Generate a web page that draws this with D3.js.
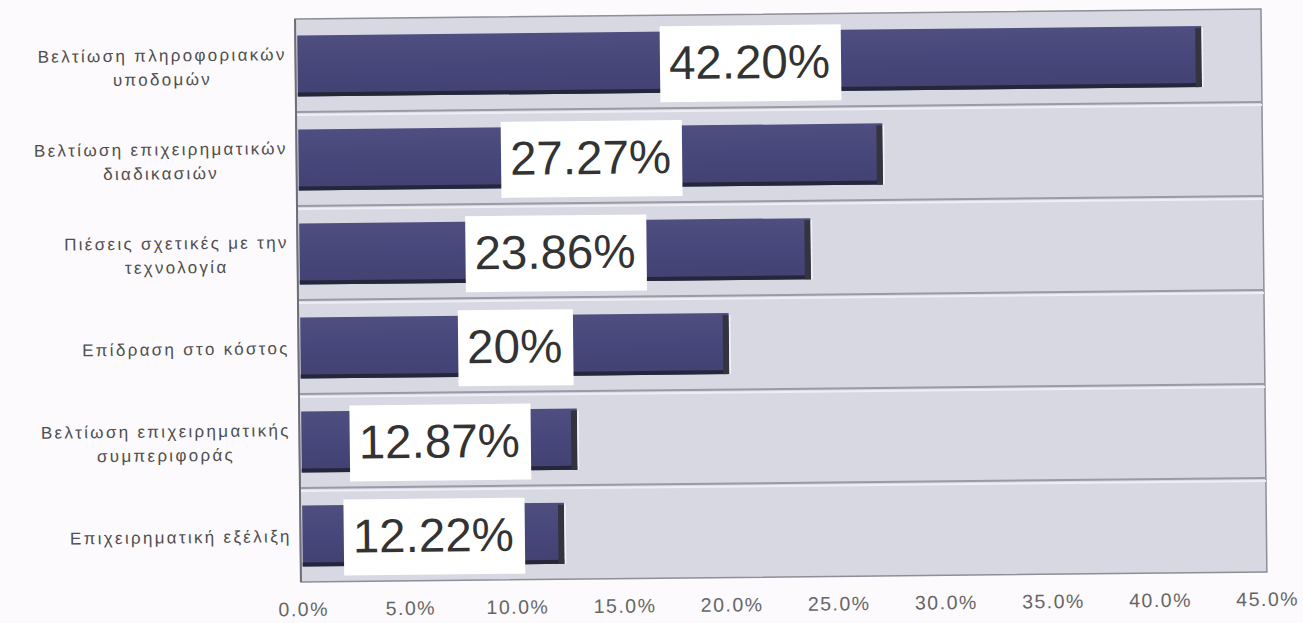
<!DOCTYPE html>
<html>
<head>
<meta charset="utf-8">
<script src="https://cdn.jsdelivr.net/npm/d3@7"></script>
<style>
  html, body { margin: 0; padding: 0; background: #fcfafc; }
  svg { display: block; }
</style>
</head>
<body>
<svg id="chart" width="1303" height="623"></svg>
<script>
// Drivers of the initiative, share of respondents
const categories = [
  "Βελτίωση πληροφοριακών\nυποδομών",
  "Βελτίωση επιχειρηματικών\nδιαδικασιών",
  "Πιέσεις σχετικές με την\nτεχνολογία",
  "Επίδραση στο κόστος",
  "Βελτίωση επιχειρηματικής\nσυμπεριφοράς",
  "Επιχειρηματική εξέλιξη"
];
const values = [42.20, 27.27, 23.86, 20, 12.87, 12.22];
const valueLabels = ["42.20%", "27.27%", "23.86%", "20%", "12.87%", "12.22%"];
const tickValues = [0, 5, 10, 15, 20, 25, 30, 35, 40, 45];
const tickLabels = ["0.0%", "5.0%", "10.0%", "15.0%", "20.0%", "25.0%", "30.0%", "35.0%", "40.0%", "45.0%"];

const svg = d3.select("#chart");
const plot = { left: 298, right: 1264, top: 14, bottom: 577 };

const defs = svg.append("defs");
const barGrad = defs.append("linearGradient").attr("id", "barFill")
  .attr("x1", 0).attr("y1", 0).attr("x2", 0).attr("y2", 1);
barGrad.append("stop").attr("offset", "0%").attr("stop-color", "#4e4e80");
barGrad.append("stop").attr("offset", "55%").attr("stop-color", "#46467a");
barGrad.append("stop").attr("offset", "100%").attr("stop-color", "#414172");

const wallGrad = defs.append("linearGradient").attr("id", "wallFill")
  .attr("x1", 0).attr("y1", 0).attr("x2", 1).attr("y2", 0);
wallGrad.append("stop").attr("offset", "0%").attr("stop-color", "#d8d8e3");
wallGrad.append("stop").attr("offset", "100%").attr("stop-color", "#d7d8e2");

// whole drawing sits slightly tilted
const g = svg.append("g").attr("transform", "rotate(-0.6, 780, 300)");

const x = d3.scaleLinear().domain([0, 45]).range([plot.left + 2, plot.right]);
const y = d3.scaleBand().domain(categories)
  .range([plot.top, plot.bottom + 1])
  .paddingInner(0.35).paddingOuter(0.175);

// back wall
g.append("rect")
  .attr("x", plot.left).attr("y", plot.top)
  .attr("width", plot.right - plot.left).attr("height", plot.bottom - plot.top)
  .attr("fill", "url(#wallFill)")
  .attr("stroke", "#8e8e98").attr("stroke-width", 1.5);

// horizontal separators between categories
const bounds = categories.slice(1).map(c => y(c) - y.step() * y.paddingInner() / 2);
g.selectAll("line.sep").data(bounds).join("line")
  .attr("class", "sep")
  .attr("x1", plot.left).attr("x2", plot.right)
  .attr("y1", d => d - 1).attr("y2", d => d - 1)
  .attr("stroke", "#9a9aa6").attr("stroke-width", 2);
g.selectAll("line.sepHi").data(bounds).join("line")
  .attr("class", "sepHi")
  .attr("x1", plot.left).attr("x2", plot.right)
  .attr("y1", d => d + 2).attr("y2", d => d + 2)
  .attr("stroke", "#eeeef4").attr("stroke-width", 2);

// left axis line
g.append("line")
  .attr("x1", plot.left).attr("x2", plot.left)
  .attr("y1", plot.top).attr("y2", plot.bottom)
  .attr("stroke", "#6e6e78").attr("stroke-width", 2);

// bars with a dark lower edge and end face
const bars = g.selectAll("g.bar").data(values).join("g").attr("class", "bar");
bars.append("rect")
  .attr("x", x(0)).attr("y", (d, i) => y(categories[i]))
  .attr("width", d => x(d) - x(0)).attr("height", y.bandwidth())
  .attr("fill", "url(#barFill)");
bars.append("rect")
  .attr("x", x(0)).attr("y", (d, i) => y(categories[i]) + y.bandwidth() - 4)
  .attr("width", d => x(d) - x(0)).attr("height", 4)
  .attr("fill", "#26263a");
bars.append("rect")
  .attr("x", d => x(d) - 6).attr("y", (d, i) => y(categories[i]) + 2)
  .attr("width", 6).attr("height", y.bandwidth() - 2)
  .attr("fill", "#34343f");
bars.append("line")
  .attr("x1", d => x(d) + 1).attr("x2", d => x(d) + 1)
  .attr("y1", (d, i) => y(categories[i]) + 2)
  .attr("y2", (d, i) => y(categories[i]) + y.bandwidth())
  .attr("stroke", "#f4f4f8").attr("stroke-width", 1.5);

// value labels in white boxes, centred on each bar
const lab = g.selectAll("g.vlab").data(values).join("g").attr("class", "vlab");
lab.append("text")
  .attr("x", d => (x(0) + x(d)) / 2)
  .attr("y", (d, i) => y(categories[i]) + y.bandwidth() / 2 + 17)
  .attr("text-anchor", "middle")
  .attr("font-family", "'Liberation Sans', Arial, sans-serif")
  .attr("font-size", 47.5)
  .attr("fill", "#333333")
  .text((d, i) => valueLabels[i]);
lab.each(function () {
  const t = d3.select(this).select("text");
  const b = t.node().getBBox();
  const cy = +t.attr("y") - 17 + 2;
  d3.select(this).insert("rect", "text")
    .attr("x", b.x - 9).attr("width", b.width + 20)
    .attr("y", cy - 38).attr("height", 76)
    .attr("fill", "#ffffff");
});

// category labels, lines centred, block right aligned
const catG = g.selectAll("g.cat").data(categories).join("g").attr("class", "cat");
const spacing = 2.3, rightEdge = 287 + spacing, lineH = 24;
catG.each(function (c) {
  const lines = c.split("\n");
  const grp = d3.select(this);
  const cy = y(c) + y.bandwidth() / 2;
  const texts = lines.map((ln, k) => grp.append("text")
    .attr("font-family", "'Liberation Sans', Arial, sans-serif")
    .attr("font-size", 17)
    .attr("letter-spacing", spacing)
    .attr("fill", "#4e4e4e")
    .attr("text-anchor", "middle")
    .attr("y", cy + 6 + (k - (lines.length - 1) / 2) * lineH)
    .text(ln));
  const maxW = d3.max(texts, t => t.node().getComputedTextLength());
  texts.forEach(t => t.attr("x", rightEdge - maxW / 2));
});

// value axis
const axis = d3.axisBottom(x).tickValues(tickValues)
  .tickFormat((d, i) => tickLabels[i]).tickSize(0).tickPadding(0);
const ax = g.append("g").attr("transform", `translate(0, ${plot.bottom + 34})`).call(axis);
ax.select(".domain").remove();
ax.selectAll("text")
  .attr("font-family", "'Liberation Sans', Arial, sans-serif")
  .attr("font-size", 19.5)
  .attr("letter-spacing", 1.5)
  .attr("fill", "#666666")
  .attr("dy", 0);
</script>
</body>
</html>
